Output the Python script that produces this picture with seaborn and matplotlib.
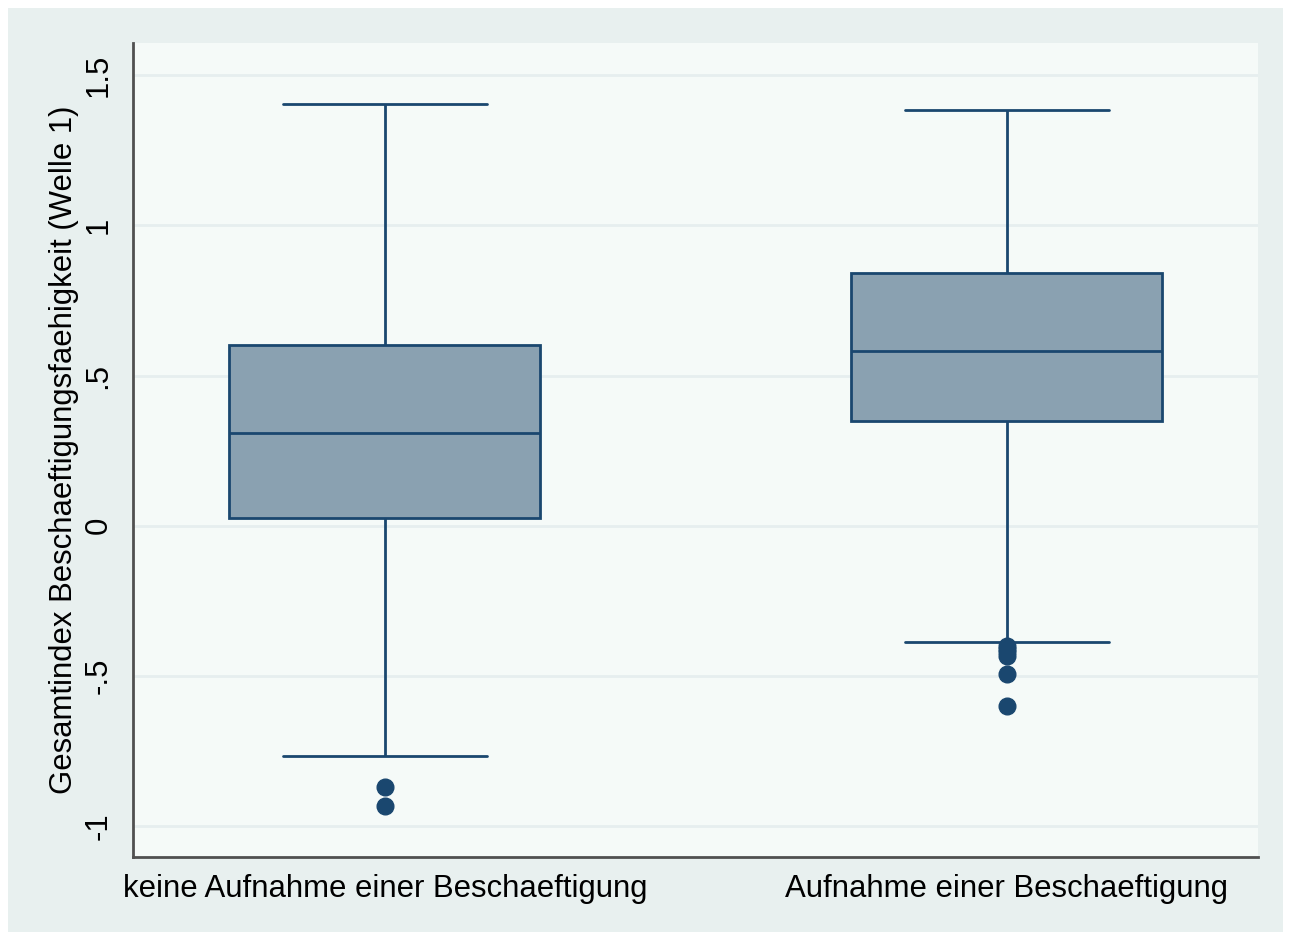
import pandas as pd
import matplotlib.pyplot as plt
import matplotlib.patches as mpatches
import seaborn as sns

# box statistics
groups = ["keine Aufnahme einer Beschaeftigung", "Aufnahme einer Beschaeftigung"]
whisk_lo = [-0.767, -0.387]
q1 = [0.027, 0.347]
median = [0.307, 0.580]
q3 = [0.600, 0.840]
whisk_hi = [1.403, 1.383]
outliers = [[-0.870, -0.933],
            [-0.400, -0.410, -0.420, -0.435, -0.495, -0.600]]

yticks = [-1, -0.5, 0, 0.5, 1, 1.5]
yticklabels = ["-1", "-.5", "0", ".5", "1", "1.5"]

# sample whose quartiles/whiskers reproduce the stats above
rows = []
for i, g in enumerate(groups):
    below = sorted(outliers[i]) + [whisk_lo[i]]
    m = len(below)
    vals = below + [q1[i]] * m + [median[i]] * m + [q3[i]] * m + [whisk_hi[i]]
    rows += [(g, v) for v in vals]
df = pd.DataFrame(rows, columns=["group", "value"])

navy = "#1a476f"
sns.set_style("white")
plt.rcParams["font.family"] = ["Liberation Sans", "DejaVu Sans"]
fs = 22.4

fig = plt.figure(figsize=(12.91, 9.35), dpi=100, facecolor="white")
fig.patches.append(mpatches.Rectangle((8 / 1291, 3 / 935), 1275 / 1291, 924 / 935,
                                      transform=fig.transFigure, facecolor="#e8f0ef",
                                      edgecolor="none", zorder=-10))
ax = fig.add_axes([133 / 1291, 1 - 857 / 935, 1125 / 1291, 814 / 935])
ax.set_facecolor("#f5faf8")

sns.boxplot(data=df, x="group", y="value", order=groups, ax=ax,
            width=0.5, color="#8aa1b1", saturation=1, linecolor=navy,
            linewidth=2, whis=1.5, capwidths=0.328,
            flierprops=dict(marker="o", markersize=12, markerfacecolor=navy,
                            markeredgecolor=navy))

ax.set_xlim(-0.405, 1.404)
ax.set_ylim(-1.103, 1.607)
ax.set_yticks(yticks)
ax.set_yticklabels(yticklabels, rotation=90, va="center", fontsize=fs, color="black")
ax.yaxis.grid(True, color="#e6eeef", linewidth=2)
ax.set_axisbelow(True)
ax.tick_params(axis="y", length=8, width=2, color="#505050", pad=6)
ax.tick_params(axis="x", length=0, pad=12, labelsize=fs, labelcolor="black")
ax.set_xlabel("")
ax.set_ylabel("Gesamtindex Beschaeftigungsfaehigkeit (Welle 1)", fontsize=fs,
              color="black", labelpad=3)

for s in ["top", "right"]:
    ax.spines[s].set_visible(False)
for s in ["left", "bottom"]:
    ax.spines[s].set_color("#505050")
    ax.spines[s].set_linewidth(2)

fig.savefig("out.png", dpi=100, facecolor="white")
